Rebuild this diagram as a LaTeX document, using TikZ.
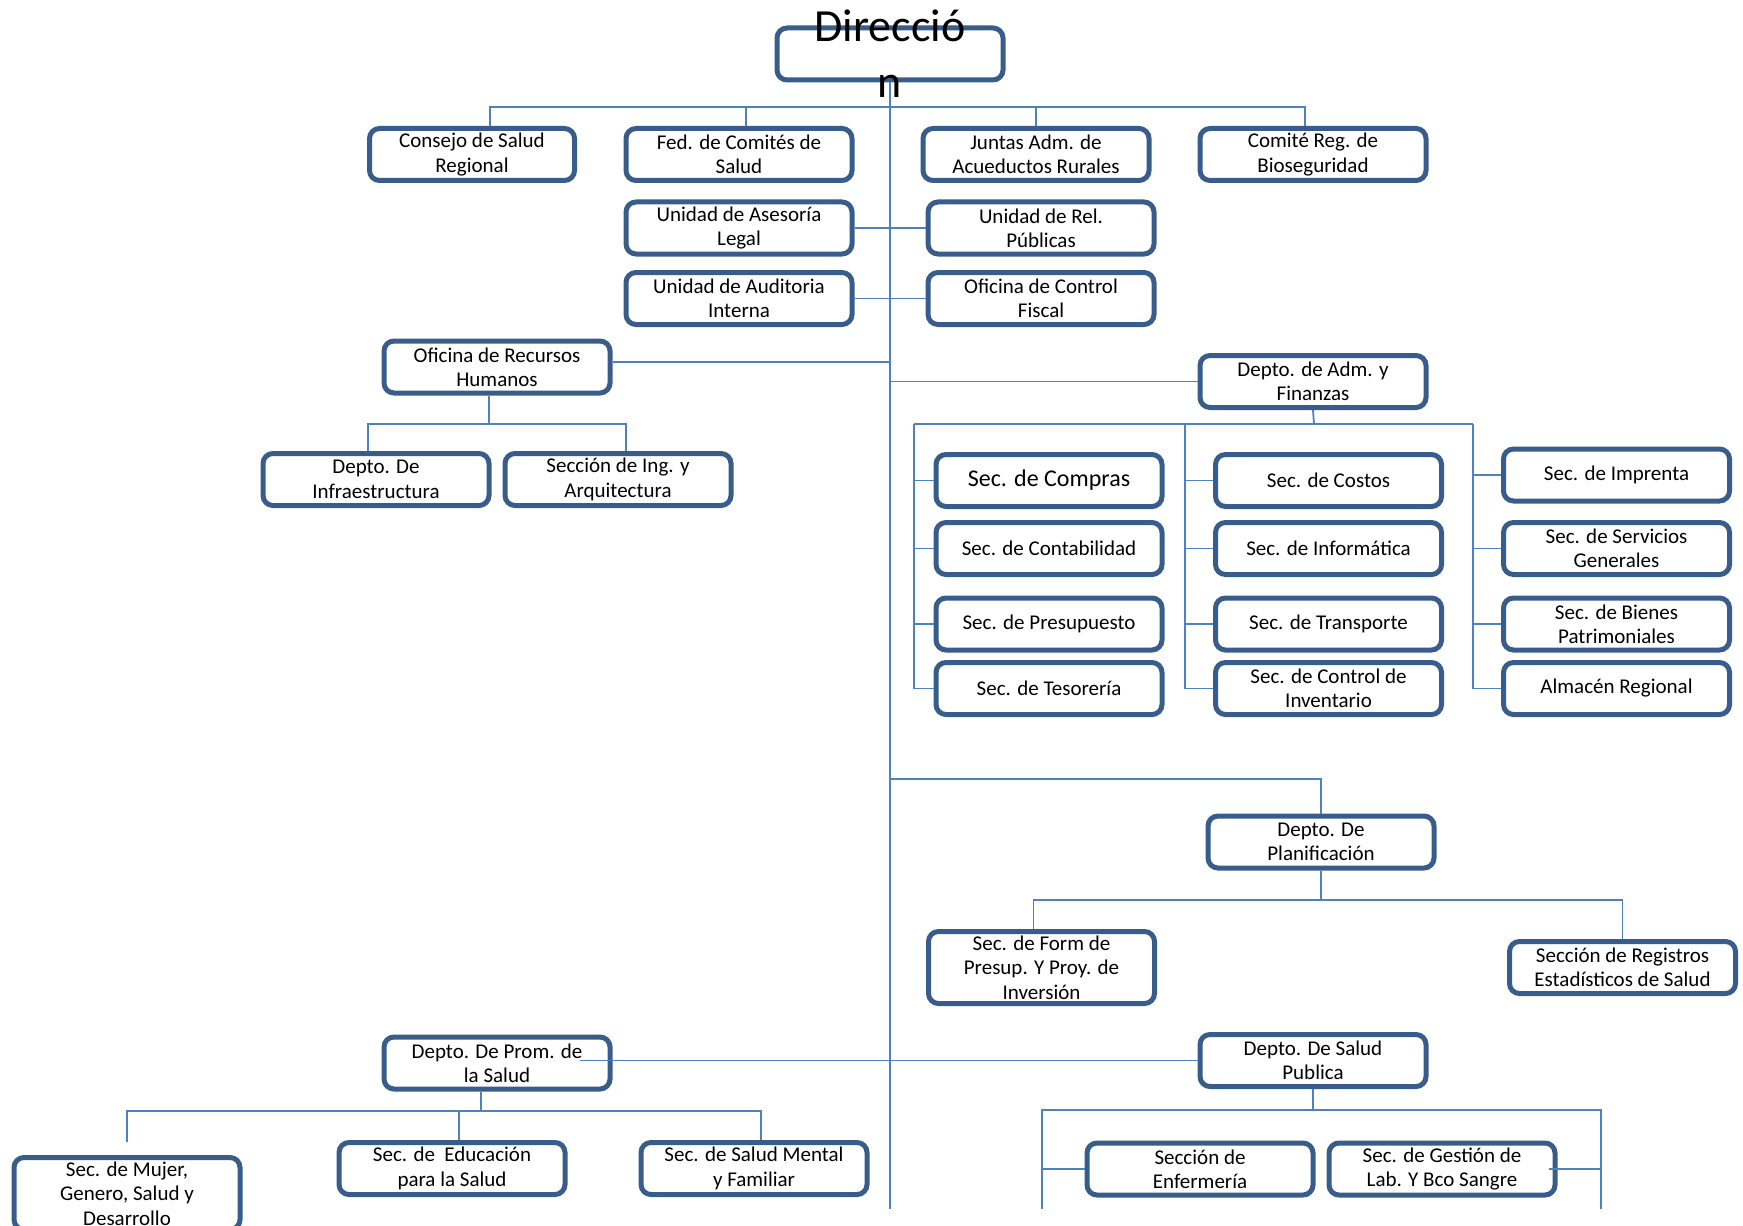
\documentclass[tikz,border=0pt]{standalone}
\usepackage{fontspec}
\setmainfont{Carlito}

\definecolor{boxblue}{HTML}{385D8A}
\definecolor{lineblue}{HTML}{4F81BD}

\begin{document}
\begin{tikzpicture}[
x=0.5pt, y=-0.5pt,
box/.style={draw=boxblue, line width=2.5pt, rectangle, rounded corners=5pt, align=center, minimum width=113pt, minimum height=26pt, inner sep=0pt, font=\fontsize{10.5}{12.2}\selectfont},
tallbox/.style={box, minimum height=36pt},
conn/.style={draw=lineblue, line width=0.9pt}
]
\useasboundingbox (0,0) rectangle (1743,1225);

\node[box, label={[align=center, inner sep=0pt, font=\fontsize{23}{28}\selectfont]center:{Direcció\\n}}] (direccion) at (890,54) {};

\node[box, minimum width=102.5pt] (consejo) at (472,154.5) {Consejo de Salud\\Regional};
\node[box] (fedcomites) at (739,154.5) {Fed. de Comités de\\Salud};
\node[box] (juntas) at (1036,154.5) {Juntas Adm. de\\Acueductos Rurales};
\node[box] (comite) at (1313,154.5) {Comité Reg. de\\Bioseguridad};

\node[box] (asesoria) at (739,228) {Unidad de Asesoría\\Legal};
\node[box] (relpublicas) at (1041,228) {Unidad de Rel.\\Públicas};
\node[box] (auditoria) at (739,298.5) {Unidad de Auditoria\\Interna};
\node[box] (controlfiscal) at (1041,298.5) {Oficina de Control\\Fiscal};

\node[box] (rrhh) at (497,367) {Oficina de Recursos\\Humanos};
\node[box] (infraestructura) at (376,479.5) {Depto. De\\Infraestructura};
\node[box] (ingarq) at (618,479.5) {Sección de Ing. y\\Arquitectura};

\node[box] (admfin) at (1313,381.5) {Depto. de Adm. y\\Finanzas};

\node[box, font=\fontsize{12}{14}\selectfont] (compras) at (1049,480.5) {Sec. de Compras};
\node[box] (contabilidad) at (1049,548.5) {Sec. de Contabilidad};
\node[box] (presupuesto) at (1049,624) {Sec. de Presupuesto};
\node[box] (tesoreria) at (1049,688.5) {Sec. de Tesorería};

\node[box] (costos) at (1328.5,480.5) {Sec. de Costos};
\node[box] (informatica) at (1328.5,548.5) {Sec. de Informática};
\node[box] (transporte) at (1328.5,624) {Sec. de Transporte};
\node[box] (inventario) at (1328.5,688.5) {Sec. de Control de\\Inventario};

\node[box] (imprenta) at (1616.5,475) {Sec. de Imprenta};
\node[box] (servgen) at (1616.5,548.5) {Sec. de Servicios\\Generales};
\node[box] (bienes) at (1616.5,624) {Sec. de Bienes\\Patrimoniales};
\node[box] (almacen) at (1616.5,688.5) {Almacén Regional};

\node[box] (planificacion) at (1321,842) {Depto. De\\Planificación};
\node[tallbox] (formpresup) at (1041.5,967.5) {Sec. de Form de\\Presup. Y Proy. de\\Inversión};
\node[box] (registros) at (1622.5,967.5) {Sección de Registros\\Estadísticos de Salud};

\node[box] (promsalud) at (497,1063) {Depto. De Prom. de\\la Salud};
\node[tallbox] (mujer) at (127,1193.5) {Sec. de Mujer,\\Genero, Salud y\\Desarrollo};
\node[box] (educacion) at (452,1168.5) {Sec. de \ Educación\\para la Salud};
\node[box] (saludmental) at (754,1168.5) {Sec. de Salud Mental\\y Familiar};

\node[box] (saludpublica) at (1313,1060.5) {Depto. De Salud\\Publica};
\node[box] (enfermeria) at (1200,1169) {Sección de\\Enfermería};
\node[box] (laboratorio) at (1442,1169) {Sec. de Gestión de\\Lab. Y Bco Sangre};

\coordinate (mainend) at (889,1209);
\coordinate (topbus) at (889,107);
\coordinate (rrhhbus) at (489,424);
\coordinate (admbus) at (1314,424);
\coordinate (col1) at (914,424);
\coordinate (col2) at (1185,424);
\coordinate (col3) at (1473,424);
\coordinate (planjoint) at (889,779);
\coordinate (planbus) at (1321,900);
\coordinate (promjoint) at (580,1060.5);
\coordinate (prombus) at (481,1111);
\coordinate (mujerjoint) at (127,1142);
\coordinate (saludbus) at (1313,1110);
\coordinate (saludleft) at (1042,1209);
\coordinate (saludright) at (1601,1209);

\draw[conn] (direccion.south) -- (direccion.south |- mainend);
\draw[conn] ([xshift=9pt]consejo.north) |- (topbus) -| ([xshift=-4pt]comite.north);
\draw[conn] ([xshift=3.5pt]fedcomites.north) |- (topbus);
\draw[conn] (juntas.north) |- (topbus);
\draw[conn] (asesoria.east) -- (relpublicas.west);
\draw[conn] (auditoria.east) -- (controlfiscal.west);

\draw[conn] ([yshift=2.5pt]rrhh.east) -- ([yshift=2.5pt]rrhh.east -| mainend);
\draw[conn] (rrhh.south -| rrhhbus) -- (rrhhbus);
\draw[conn] ([xshift=-4pt]infraestructura.north) |- (rrhhbus) -| ([xshift=4pt]ingarq.north);

\draw[conn] (admfin.west) -- (admfin.west -| mainend);
\draw[conn] (admfin.south) -- (admbus);
\draw[conn] (col1) -- (col3);
\draw[conn] (col1) |- (tesoreria.west);
\draw[conn] (compras.west) -- (compras.west -| col1);
\draw[conn] (contabilidad.west) -- (contabilidad.west -| col1);
\draw[conn] (presupuesto.west) -- (presupuesto.west -| col1);
\draw[conn] (col2) |- (inventario.west);
\draw[conn] (costos.west) -- (costos.west -| col2);
\draw[conn] (informatica.west) -- (informatica.west -| col2);
\draw[conn] (transporte.west) -- (transporte.west -| col2);
\draw[conn] (col3) |- (almacen.west);
\draw[conn] (imprenta.west) -- (imprenta.west -| col3);
\draw[conn] (servgen.west) -- (servgen.west -| col3);
\draw[conn] (bienes.west) -- (bienes.west -| col3);

\draw[conn] (planjoint) -| (planificacion.north);
\draw[conn] (planificacion.south) -- (planbus);
\draw[conn] ([xshift=-4pt]formpresup.north) |- (planbus) -| (registros.north);

\draw[conn] (promjoint) -- (saludpublica.west);
\draw[conn] (promsalud.south -| prombus) -- (prombus);
\draw[conn] (mujerjoint) |- (prombus) -| ([xshift=3.5pt]saludmental.north);
\draw[conn] ([xshift=3.5pt]educacion.north) |- (prombus);

\draw[conn] (saludpublica.south) -- (saludbus);
\draw[conn] (saludleft) |- (saludbus) -| (saludright);
\draw[conn] (enfermeria.west) -- (enfermeria.west -| saludleft);
\draw[conn] ([xshift=-4.5pt]laboratorio.east) -- (laboratorio.east -| saludright);

\end{tikzpicture}
\end{document}
